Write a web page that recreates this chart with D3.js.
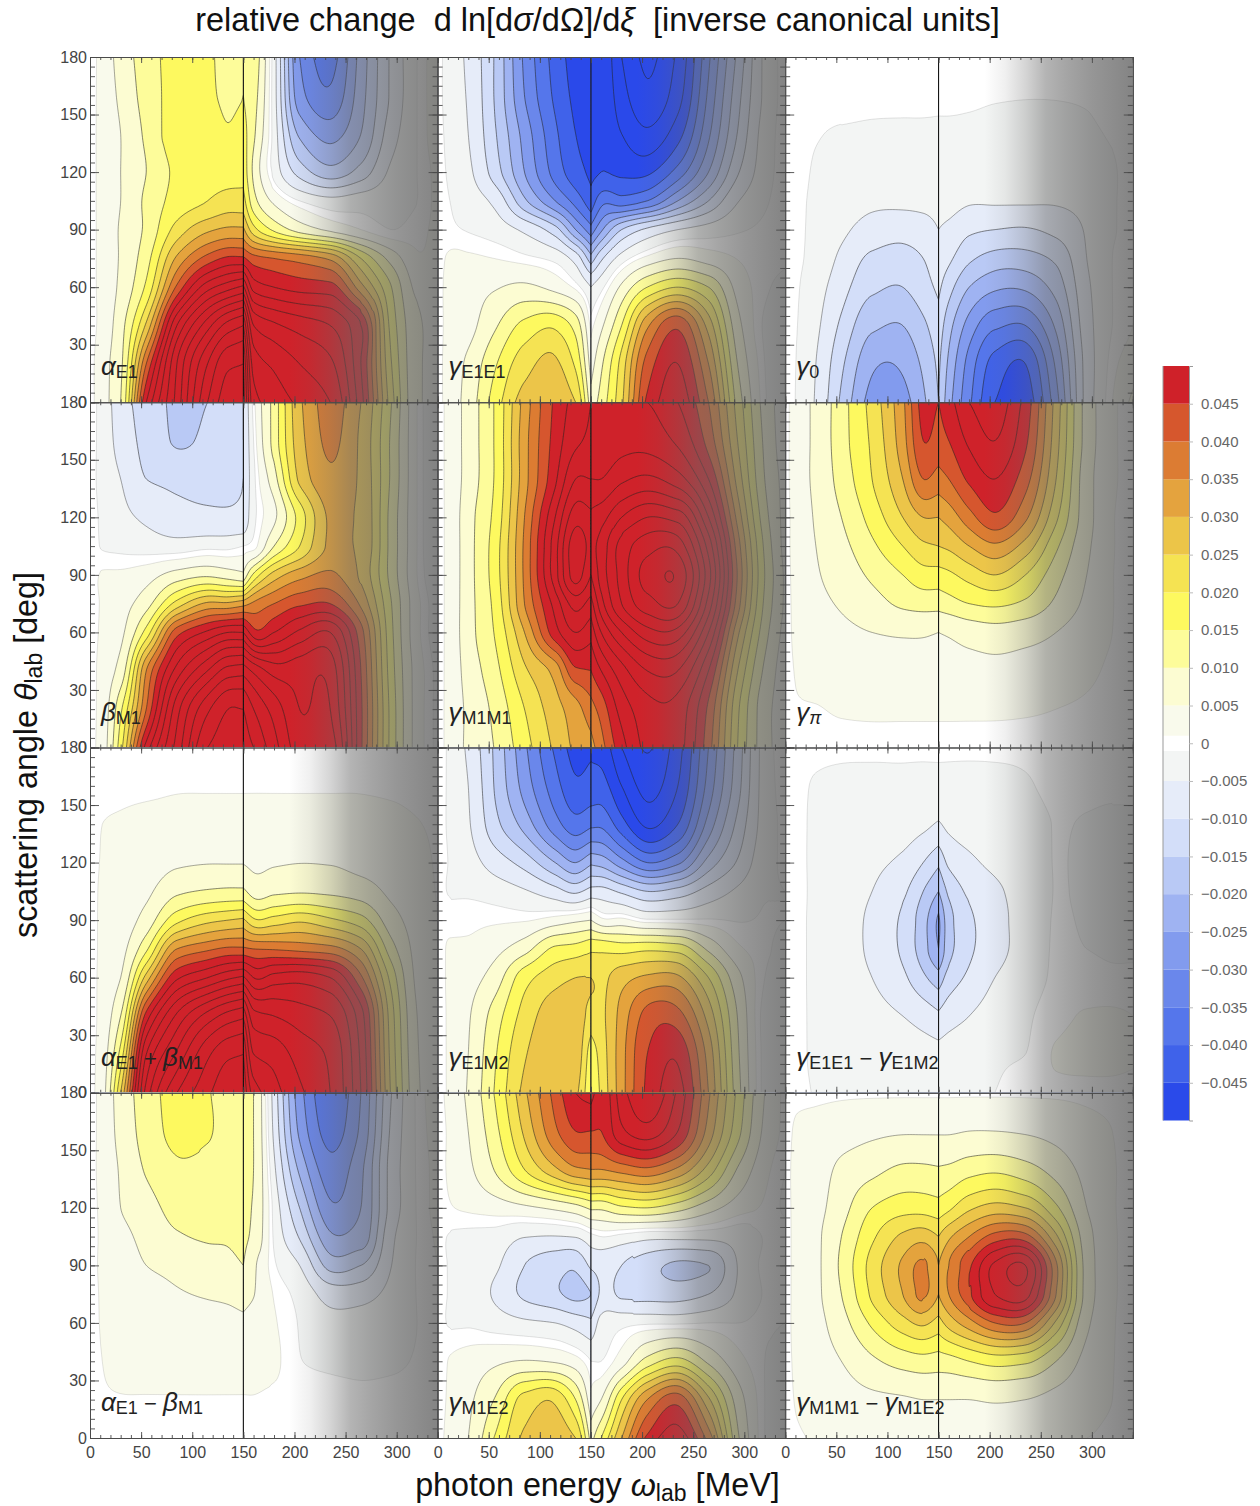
<!DOCTYPE html>
<html><head><meta charset="utf-8">
<script src="https://cdn.jsdelivr.net/npm/d3@7"></script>
<style>
html,body{margin:0;padding:0;background:#fff}
svg{display:block}
text{font-family:"Liberation Sans",Arial,sans-serif}
</style></head><body>
<svg id="c" width="1260" height="1506"></svg>
<script>
// read-off tables: rows are scattering angles, columns photon energies; values in 0.001 inverse canonical units
const angleRows=[180,160,140,120,105,90,75,60,40,20,0];
const energyCols=[0,12,30,55,85,115,135,150,160,180,205,235,265,295,320,340];
const alphaE1=[
[0,2,7,12.5,17,16,13,15,13,-3,-30,-37,-23,-9,-1,3],
[0,2,6,12,17,16,14,15,12,-3,-28,-34,-22,-9,-1,3],
[0,2,5,11,18,18,15.5,17,11,-2.5,-21,-27,-20,-7,-1,3],
[0,2,5,10,16,18,18,18.5,9,-2,-12,-18,-13,-4,-1,2],
[0,2,5,11,17,20,22,22,12,4,-1,-3.5,-2.5,-2,-1,2],
[0,2,5.5,11,22,29,31,31,22,14,8,4,1,-1,0,2],
[0,2,5.5,13,31,42,46,46,42,40,38,34,20,8,1.5,2],
[0,2,6,16,41,58,63,66,53,50,48,47,32,15,4,3],
[0,2,8,26,60,78,87,90,70,66,63,60,50,18,6,3],
[0,3,9,40,70,90,99,100,78,74,70,66,50,20,6,3],
[0,3,10,50,72,95,103,103,82,78,74,70,52,22,6,3]];
const gammaE1E1=[
[0,-2.5,-6,-15,-31,-42,-47,-47,-46,-55,-61,-54,-36,-18,-4,0.5],
[0,-2.5,-5.5,-15,-30,-41,-46,-47,-46,-53,-59,-52,-34,-16,-4,0.5],
[0,-2,-5,-14,-27,-39,-45,-47,-46,-50,-54,-47,-31,-14,-3,0.5],
[0,-1.5,-4,-12,-25,-37,-43,-46,-45,-46,-46,-38,-25,-10,-2.5,0.5],
[0,-1,-2.5,-6,-19,-30,-37,-43,-37,-38,-35,-25,-15,-5,-1.5,0.5],
[0,-0.6,-1.2,-2.5,-6,-13,-25,-33,-26,-15,-9,-5,-3,-1.3,-0.5,0.5],
[0,1.5,1.5,1,-0.2,-2,-7,-18,-11,-3,2,5,3,0.8,-0.3,-0.5],
[0,2,3,4.5,6,3.5,0.3,-5,-2,6,15,20,15,3,-0.5,-2],
[0,2,3.5,9,16.5,19,13,0,4,15,34,44,28,6,-1.5,-4],
[0,2.5,6,14,23,26,19,3,9,22,42,50,35,9,-1,-5],
[0,2.5,7,17,27,29,25,7,12,24,46,53,40,12,-0.5,-5]];
const gamma0=[
[0,0,0,0,0,0,0,0,0,0,0,0,0,0,0,0],
[0,0,0,0,-0.3,-0.4,-0.4,-0.5,-0.5,-0.6,-0.8,-0.9,-0.9,-0.8,-0.3,0],
[0,-0.2,-0.8,-1.3,-1.5,-1.5,-1.5,-1.5,-1.5,-1.6,-1.8,-1.8,-1.6,-1.3,-0.8,-0.3],
[0,-0.3,-1.3,-2,-2.5,-2.5,-2.5,-2.5,-2.5,-2.7,-3,-3,-2.7,-2,-1.2,-0.3],
[0,-0.5,-1.5,-2.5,-4,-4,-3.8,-3.5,-3.5,-4.5,-4.5,-4.5,-4.5,-3.5,-1.2,-0.5],
[0,-0.5,-1.8,-4,-7,-8,-7,-5,-6,-9,-10,-10.5,-8.5,-4.5,-1.2,-0.5],
[0,-0.6,-2,-6,-11,-12,-10,-7,-9,-14,-17,-17,-14,-5,-1,0],
[0,-0.8,-3,-8,-14,-15,-12,-9,-13,-20,-24,-24,-18,-6,-1,0.5],
[0,-1,-4,-11,-19,-20,-16,-12,-18,-27,-34,-35,-24,-7,-1,1],
[0,-1.2,-5,-14,-24,-24,-19,-14,-21,-32,-42,-45,-29,-8,0,3],
[0,-1.3,-5.5,-16,-27,-27,-21,-15,-23,-34,-45,-48,-32,-8,1,6]];
const betaM1=[
[0,-2,-8,-12,-16,-15,-12,-10,0,12,29,37,30,15,1,-5],
[0,-2,-7,-11.5,-15.5,-14,-12,-10,-1,12,28,36,29,14,1,-5],
[0,-2,-5,-10,-11,-11.5,-11.5,-10,-2,8,26,34,29,14,1,-5],
[0,-1.5,-3.5,-6,-8.5,-9,-9,-9,-2,4,17,31,29,13,1,-5],
[0,-1.2,-1.8,-2.5,-3,-2,-2,-1,0,10,20,31,29,13,1,-5],
[0,1.2,1.5,3,7,9,7.5,6,16,27,33,36,29,13,1,-4],
[0,1.3,3,8,22,31,31,33,36,40,44,45,34,15,2,-3],
[0,1.5,4,17,43,51,55,55,47,50,56,60,42,16,2,-3],
[0,2,7,35,57,70,77,78,74,68,68,68,45,17,3,-2],
[0,2.2,14,40,68,84,90,90,85,78,70,70,46,18,3,-2],
[0,2.5,18,52,72,90,93,93,90,82,73,72,46,18,3,-2]];
const gammaM1M1=[
[0,2,7,15,32,46,52,55,55,56,55,50,40,22,8,2],
[0,2,7,15,33,47,54,56,56,58,58,54,43,24,9,2],
[0,2,7,15,33,49,60,60,60,64,66,62,50,27,10,3],
[0,2,8,16,35,55,68,66,68,75,80,78,60,32,12,3],
[0,2,8,17,36,58,73,68,72,82,88,88,68,36,14,3],
[0,2,8,17,36,58,72,65,72,82,92,94,72,38,15,4],
[0,2,8,16,35,52,62,58,68,80,88,90,68,36,14,4],
[0,2,8,15,30,48,55,52,60,70,78,78,60,30,12,3],
[0,2,7,13,24,32,44,45,50,58,65,65,50,24,9,2],
[0,2,6,11,20,28,33,38,42,52,58,58,44,20,7,2],
[0,2,6,10,18,26,31,33,38,48,56,57,42,19,7,2]];
const gammaPi=[
[0,3,6,13,22,34,47,45,48,55,58,48,28,8,1.5,0],
[0,3,6,13,21,33,45,43,45,51,55,46,27,8,1.5,0],
[0,3,6,12,20,30,40,38,40,46,50,42,25,7,1.5,0],
[0,2.5,5.5,10,17,25,30,30,32,38,44,36,21,7,1.2,0],
[0,2.5,5,8.5,14,20,24,25,26,30,34,28,16,6,1.2,0],
[0,2.2,4.5,7,11,15,18,18,19,22,25,20,12,5,1.1,0],
[0,2,3.8,5.5,8,11,12,12,13,15,16,14,9,4,1.1,0],
[0,1.8,3,4,5,5.5,5.5,5,5.5,7,8,7,5,2.5,1,0],
[0,1.3,2,2.5,2.8,3,3,3,3,3.2,3.5,3,2.5,1.5,0.6,0],
[0,0.8,0.9,1.2,1.3,1.3,1.3,1.3,1.3,1.3,1.3,1.2,1,0.7,0.3,0],
[0,0.3,0.5,0.5,0.5,0.5,0.5,0.5,0.5,0.5,0.5,0.5,0.5,0.3,0.2,0]];
const alphaPlusBeta=[
[0,0.2,0.4,0.5,0.5,0.5,0.5,0.5,0.5,0.5,0.5,0.5,0.5,0.4,0.3,0.2],
[0,0.5,0.7,0.8,0.9,0.9,0.9,0.9,0.9,0.9,0.9,0.9,0.9,0.8,0.6,0.3],
[0,1,1.2,1.4,1.5,1.6,1.6,1.6,1.6,1.6,1.6,1.6,1.5,1.4,1.1,0.6],
[0,1.2,1.8,2.5,4.3,4.8,4.8,4.8,4,4.5,4.9,4.7,3.5,2.5,1.8,0.7],
[0,1.4,2,4,9,10.5,11,11,8,9,9.5,9,7.5,4,2.5,0.8],
[0,1.5,2.5,7,18.5,23.5,25,26,21,22,24,21,17,7,3,1],
[0,1.6,3.5,14,35,39,41,41,40,39.5,38.5,37,30,12,3.5,1],
[0,1.8,5,27,49,55,59,61,55,57,58,55,41,18,4,1],
[0,2,10,47,66,77,82,84,72,70,67.5,65,52,22,5,1],
[0,2.5,17,60,76,89,94,95,80,78,73,69,54,23,5.5,1],
[0,3,25,67,85,94,99,99,88,82,76,70,55,24,6,1]];
const gammaE1M2=[
[0,-1.5,-6,-15.5,-29,-41,-47,-46,-47,-55,-60.5,-52,-35,-17,-3,1],
[0,-1.5,-5,-15,-27,-38,-44,-43,-43,-50,-57,-50,-33,-16,-3,0.5],
[0,-1.5,-4.5,-13,-22,-33,-38,-36,-36,-43,-51,-45,-28,-13,-3,0],
[0,-1.2,-3,-7,-12,-20,-25,-21,-22,-28,-35,-31,-18,-9,-2,-0.5],
[0,-1.2,-1.5,-2.5,-4.5,-8,-11,-8,-8,-11,-15,-13,-8,-4,-1.2,-1],
[0,0.2,0.4,0.5,0.7,2.5,4,5,2,2,-0.5,-0.6,-0.7,-1.2,-0.8,-1],
[0,1.3,1.5,3.5,8,16,17,19,19,18,19,18,9,1.5,-0.5,-2],
[0,1.5,3,7,18,23,25,25,24,28,31,31,20,6,-1,-3],
[0,1.5,4.5,12,22,28,28,23,24,32,42,42,28,9,-2,-4],
[0,1.5,5,14,24.5,29,28,17,22,33,45,49,33,10,-2,-5],
[0,1.5,5.5,15,26,29,26,15,21,33,46,52,35,11,-2,-5]];
const gammaE1Diff=[
[0,-0.2,-0.5,-0.6,-0.7,-0.7,-0.7,-0.7,-0.7,-0.7,-0.7,-0.7,-0.5,-0.5,-0.5,-0.5],
[0,-0.5,-1.2,-1.5,-1.5,-1.5,-1.6,-1.6,-1.6,-1.6,-1.5,-1.2,-0.5,-0.5,-0.5,-0.5],
[0,-0.4,-1.5,-2,-2.5,-3,-4,-5.5,-4,-3,-2.5,-2,-0.9,-1.2,-1.5,-1.5],
[0,-0.4,-1.6,-2.5,-4,-6,-10,-14,-9,-6,-4,-2.5,-0.9,-1.5,-1.5,-1.5],
[0,-0.4,-1.6,-3,-5,-9,-15,-20,-14,-9,-6,-3,-0.9,-1.5,-1.5,-1.5],
[0,-0.4,-1.7,-3,-6,-11,-18,-26,-17,-11,-7,-3,-0.8,-1.3,-1.5,-1.5],
[0,-0.4,-1.7,-3,-6,-11,-18,-25,-17,-11,-7,-3,-0.7,-1,-1.2,-1.2],
[0,-0.4,-1.7,-3,-5,-9,-14,-18,-13,-9,-5,-2.5,-0.7,-0.5,-0.7,-0.7],
[0,-0.4,-1.6,-2.5,-3.5,-5,-7,-9,-7,-5,-3,-1.5,0.3,1.2,1.3,1],
[0,-0.4,-1.5,-2,-2.2,-2.5,-3,-3.5,-3,-2.5,-1.5,-1,1.2,1.5,1.5,1.2],
[0,-0.3,-1.2,-1.8,-1.8,-1.8,-1.8,-1.8,-1.8,-1.5,-1,0.2,0.5,0.5,0.5,0.5]];
const alphaMinusBeta=[
[0,2,7,12.5,17,15.3,13,12,10,-7,-28,-39,-30,-10,-0.5,3],
[0,2,6.5,12,16.5,15.5,13,12,10,-6,-26,-37,-29,-9,-0.6,2.5],
[0,2,5.5,10.5,14,13.5,13,12,10,-4,-21,-33,-26,-8,-0.7,2],
[0,1.7,5,8,11.5,12,12,11.5,9.5,-2,-15,-29,-25,-8,-0.8,2],
[0,1.5,3.5,6.5,9.5,10.5,10.5,11,9,-1.5,-10.5,-24,-23,-6,-0.9,1.5],
[0,1.5,2.5,5,6.5,8,9,10,6,-0.5,-5,-17,-15,-5,-0.8,1],
[0,1.3,2,3,4.5,5.5,6,7,5.2,0.8,-2,-7,-7,-3.5,-0.9,0.7],
[0,1.2,1.7,2.2,2.5,3,3.5,4,3,1.3,-1.2,-3.5,-3,-2,-1,0.5],
[0,1,1.5,1.7,1.8,1.9,1.9,1.9,1.9,1.5,-0.9,-1.5,-1.5,-1.3,-0.8,0.3],
[0,0.8,0.9,0.9,0.9,0.9,0.9,0.9,0.9,0.6,0,-0.3,-0.6,-0.5,-0.3,0],
[0,0.3,0.3,0.3,0.3,0.3,0.3,0.3,0.3,0.3,0,0,0,0,0,0]];
const gammaM1E2=[
[0,2,6,15,29,42,50,52,47,58,65,54,36,18,5,0],
[0,1.5,5,13,26,39,45,45,45,54,58,50,33,16,4,0],
[0,1.5,4,10,20,29,34,35,35,37,39,34,23,9,2,-1],
[0,0.8,1.5,2.5,4,6,8,11,11,14,15,12,7,2.5,0.5,-1.5],
[0,-1.2,-1.6,-2.2,-4.8,-5.2,-4.7,-2,-1,-2,-3.5,-3.5,-3.5,-3,-0.8,0],
[0,-1.2,-2,-4,-10,-13,-14,-9,-8,-10,-13,-16,-15,-4.5,-0.5,0],
[0,-1.2,-2,-5.5,-11,-14,-16.5,-15,-9,-11,-11.5,-12,-10,-4,-0.8,0],
[0,-1.2,-1.3,-2.5,-4,-5,-7,-9,-3.5,-2,-1.5,-1.5,-1,-1,-0.5,-1],
[0,1.2,2.5,4,5.3,4.5,2.5,-1,-1,3,12,17,9,2,-1,-4],
[0,1.5,4,10,22,24,15,2,5,20,35,43,26,7,-1,-5],
[0,2,5,15,26,29,25,8,15,30,46,53,38,10,-1,-5]];
const gammaM1Diff=[
[0,0.3,0.4,0.5,0.5,0.5,0.5,0.5,0.5,0.5,0.5,0.5,0.5,0.4,0.3,0.1],
[0,1.5,2,3,4,4.5,4.5,4.5,4.5,5,5,4.5,3.5,2,1,0.3],
[0,2,3,6,8.5,11,11,10.5,11,13,14,12,8,3.5,1.2,0.4],
[0,2,3.5,8,15,18,18,17,19,24,27,25,16,5,1.2,0.4],
[0,2,4,10,19,26,28,25,29,35,42,42,26,7,1.3,0.4],
[0,2,4,11,22,31,36,30,35,44,56,60,36,8,1.3,0.4],
[0,2,4,10,21,30,36,30,35,44,55,57,35,8,1.3,0.4],
[0,2,3.5,8,16,23,26,23,27,33,40,40,24,6,1.2,0.3],
[0,1.7,2.8,5,9,12,13,12.5,13,15,17,16,10,3.5,1.1,0.3],
[0,1.3,2,3,4,4.5,5,5,5,5,5.5,5,3.5,2,1,0.2],
[0,0.7,1.2,1.5,1.6,1.6,1.6,1.6,1.6,1.6,1.6,1.5,1.2,1,0.5,0.1]];

const panelTables=[alphaE1,gammaE1E1,gamma0,betaM1,gammaM1M1,gammaPi,alphaPlusBeta,gammaE1M2,gammaE1Diff,alphaMinusBeta,gammaM1E2,gammaM1Diff];
const panelNames=[
[["α","E1"]],[["γ","E1E1"]],[["γ","0"]],
[["β","M1"]],[["γ","M1M1"]],[["γ","π",true]],
[["α","E1"],["β","M1"]],[["γ","E1M2"]],[["γ","E1E1"],["γ","E1M2"]],
[["α","E1"],["β","M1"]],[["γ","M1E2"]],[["γ","M1M1"],["γ","M1E2"]]];
const panelOps=["","","","","","","+","","−","−","","−"];
const fillLevels=[-45,-40,-35,-30,-25,-20,-15,-10,-5,-1,1,5,10,15,20,25,30,35,40,45];
const fillColors=["#2a4aea","#3f62ea","#5576eb","#6a87eb","#829bee","#9fb3f2","#b9c9f5","#d3def9","#e6ecf9","#f3f5f4","#ffffff","#f9faec","#fcfcd2","#fdfc9a","#fdf95f","#f5e352","#ecc548","#e4a33e","#dc7c33","#d6572d","#cf2129"];
const lineLevels=[-70,-65,-60,-55,-50,-45,-40,-35,-30,-25,-20,-15,-10,-5,-1,1,5,10,15,20,25,30,35,40,45,50,55,60,65,70,75,80,85,90,95,100,105,110];
const barTicks=[0.045,0.04,0.035,0.03,0.025,0.02,0.015,0.01,0.005,0,-0.005,-0.01,-0.015,-0.02,-0.025,-0.03,-0.035,-0.04,-0.045];
const energyTicks=[0,50,100,150,200,250,300];
const angleTicks=[0,30,60,90,120,150,180];
const energyMinor=d3.range(0,341,10);
const angleMinor=d3.range(0,181,5);
const thresholdEnergy=150;

const colX=[90,437.6,785.2], panelW=347.6, rowY=[57,402.25,747.5,1092.75], panelH=345.25;
const svg=d3.select("#c");
const defs=svg.append("defs");
const fade=defs.append("linearGradient").attr("id","fade").attr("x1",0).attr("x2",1).attr("y1",0).attr("y2",0);
[[195,0],[215,.1],[235,.28],[255,.5],[275,.6],[300,.7],[340,.82]].forEach(([e,a])=>fade.append("stop").attr("offset",e/340).attr("stop-color","rgb(105,105,105)").attr("stop-opacity",a));
const soft=defs.append("filter").attr("id","soft").attr("x","-2%").attr("y","-2%").attr("width","104%").attr("height","104%");
soft.append("feGaussianBlur").attr("stdDeviation",.45);

function hermite(xs,ys,t){
  const n=xs.length,h=[],d=[],m=new Array(n);
  for(let i=0;i<n-1;i++){h[i]=xs[i+1]-xs[i];d[i]=(ys[i+1]-ys[i])/h[i];}
  m[0]=d[0];m[n-1]=d[n-2];
  for(let i=1;i<n-1;i++){
    if(d[i-1]*d[i]>0){
      const a=2*h[i]+h[i-1],b=h[i]+2*h[i-1];
      m[i]=(a+b)/(a/d[i-1]+b/d[i]);
    }else{
      m[i]=(h[i-1]*d[i]+h[i]*d[i-1])/(h[i-1]+h[i]);
    }
  }
  return t.map(v=>{
    let i=Math.min(d3.bisectRight(xs,v)-1,n-2);if(i<0)i=0;
    const q=h[i],s=(v-xs[i])/q,s2=s*s,s3=s2*s;
    return (2*s3-3*s2+1)*ys[i]+(s3-2*s2+s)*q*m[i]+(-2*s3+3*s2)*ys[i+1]+(s3-s2)*q*m[i+1];
  });
}
const dE=1.5,dA=1.5;
const asc=angleRows.slice().reverse();
const fineA=d3.range(0,180+dA/2,dA).reverse();
function field(table,from,to){
  const cols=energyCols.slice(from,to+1);
  const fineE=d3.range(cols[0],cols[cols.length-1]+dE/2,dE);
  const rows=table.slice().reverse().map(r=>hermite(cols,r.slice(from,to+1),fineE));
  const vals=new Array(fineE.length*fineA.length);
  fineE.forEach((e,i)=>{
    const col=hermite(asc,rows.map(r=>r[i]),fineA);
    col.forEach((v,j)=>{vals[j*fineE.length+i]=v;});
  });
  return {vals,n:fineE.length,m:fineA.length,e0:cols[0]};
}
const split=energyCols.indexOf(thresholdEnergy);

panelTables.forEach((table,k)=>{
  const c=k%3,r=Math.floor(k/3);
  const x=d3.scaleLinear().domain([0,340]).range([colX[c],colX[c]+panelW]);
  const y=d3.scaleLinear().domain([0,180]).range([rowY[r]+panelH,rowY[r]]);
  const g=svg.append("g");
  const plot=g.append("g").attr("filter","url(#soft)");
  [[0,split,0,thresholdEnergy],[split,energyCols.length-1,thresholdEnergy,340]].forEach(([a,b,e0,e1],side)=>{
    const id=`clip${k}_${side}`;
    defs.append("clipPath").attr("id",id).append("rect")
      .attr("x",x(e0)).attr("y",y(180)).attr("width",x(e1)-x(e0)).attr("height",y(0)-y(180));
    const f=field(table,a,b);
    const tr=d3.geoTransform({point(px,py){
      this.stream.point(x(f.e0+(px-.5)*dE),y(180-(py-.5)*dA));
    }});
    const path=d3.geoPath(tr);
    const sg=plot.append("g").attr("clip-path",`url(#${id})`);
    sg.append("rect").attr("x",x(e0)).attr("y",y(180)).attr("width",x(e1)-x(e0)).attr("height",y(0)-y(180)).attr("fill",fillColors[0]);
    const gen=d3.contours().size([f.n,f.m]);
    fillLevels.forEach((t,i)=>{
      sg.append("path").attr("d",path(gen.contour(f.vals,t))).attr("fill",fillColors[i+1]);
    });
    lineLevels.forEach(t=>{
      const a=Math.abs(t);
      sg.append("path").attr("d",path(gen.contour(f.vals,t))).attr("fill","none")
        .attr("stroke","#222").attr("stroke-width",1)
        .attr("stroke-opacity",a===1?.12:a===5?.4:.55);
    });
  });
  g.append("rect").attr("x",x(0)).attr("y",y(180)).attr("width",panelW).attr("height",panelH).attr("fill","url(#fade)");
  g.append("line").attr("x1",x(thresholdEnergy)).attr("x2",x(thresholdEnergy)).attr("y1",y(0)).attr("y2",y(180))
    .attr("stroke","#151515").attr("stroke-width",1.1);

  // panel name
  const lab=svg.append("text").attr("x",x(0)+11).attr("y",y(0)-27).attr("fill","#222");
  panelNames[k].forEach((p,i)=>{
    if(i>0)lab.append("tspan").attr("font-size",22).text(" "+panelOps[k]+" ");
    lab.append("tspan").attr("font-size",26).attr("font-style","italic").text(p[0]);
    lab.append("tspan").attr("font-size",18).attr("font-style",p[2]?"italic":null).attr("dy",3).text(p[1]);
    lab.append("tspan").attr("font-size",1).attr("dy",-3).text("\u200a");
  });

  // frame and ticks
  const styleAxis=s=>{s.selectAll("path").attr("stroke","#4a4a4a").attr("stroke-width",1);
    s.selectAll("line").attr("stroke","#4a4a4a").attr("stroke-width",.9);
    s.selectAll("text").attr("font-family",'"Liberation Sans",Arial,sans-serif').attr("font-size",16).attr("fill","#444");};
  const add=(gen,tx,ty)=>svg.append("g").attr("transform",`translate(${tx},${ty})`).call(gen).call(styleAxis);
  add(d3.axisBottom(x).tickValues(energyMinor).tickSize(-3).tickFormat(""),0,y(0));
  add(d3.axisTop(x).tickValues(energyMinor).tickSize(-3).tickFormat(""),0,y(180));
  add(d3.axisBottom(x).tickValues(energyTicks).tickSize(-6).tickFormat(r===3?d3.format("d"):"").tickPadding(9),0,y(0));
  add(d3.axisTop(x).tickValues(energyTicks).tickSize(-6).tickFormat(""),0,y(180));
  add(d3.axisLeft(y).tickValues(angleMinor).tickSize(-5).tickFormat(""),x(0),0);
  add(d3.axisRight(y).tickValues(angleMinor).tickSize(-5).tickFormat(""),x(340),0);
  add(d3.axisLeft(y).tickValues(angleTicks).tickSize(-9).tickFormat(c===0?d3.format("d"):"").tickPadding(3),x(0),0);
  add(d3.axisRight(y).tickValues(angleTicks).tickSize(-9).tickFormat(""),x(340),0);
});

// colour bar
const barY=d3.scaleLinear().domain([-0.05,0.05]).range([1120.5,366]);
const edges=[-50,...fillLevels,50];
fillColors.forEach((col,i)=>{
  svg.append("rect").attr("x",1163).attr("width",26)
    .attr("y",barY(edges[i+1]/1000)).attr("height",barY(edges[i]/1000)-barY(edges[i+1]/1000)).attr("fill",col);
});
const barAxis=d3.axisRight(barY).tickValues(barTicks).tickSize(4).tickPadding(8)
  .tickFormat(v=>v===0?"0":(v<0?"−":"")+d3.format(".3f")(Math.abs(v)));
const bg=svg.append("g").attr("transform","translate(1189,0)").call(barAxis);
bg.select("path").attr("stroke","#999").attr("stroke-width",1);
bg.selectAll("line").attr("stroke","#bbb");
bg.selectAll("text").attr("font-size",15).attr("fill","#666").attr("font-family",'"Liberation Sans",Arial,sans-serif');
svg.append("line").attr("x1",1163).attr("x2",1163).attr("y1",366).attr("y2",1120.5).attr("stroke","#999");

// titles
const t=svg.append("text").attr("x",597.5).attr("y",31).attr("text-anchor","middle").attr("font-size",32.5).attr("fill","#111").attr("xml:space","preserve").style("white-space","pre");
t.append("tspan").text("relative change  d ln[d");
t.append("tspan").attr("font-style","italic").text("σ");
t.append("tspan").text("/dΩ]/d");
t.append("tspan").attr("font-style","italic").text("ξ");
t.append("tspan").text("  [inverse canonical units]");
const xl=svg.append("text").attr("x",597.5).attr("y",1496).attr("text-anchor","middle").attr("font-size",32.3).attr("fill","#111");
xl.append("tspan").text("photon energy ");
xl.append("tspan").attr("font-style","italic").text("ω");
xl.append("tspan").attr("font-size",23).attr("dy",5).text("lab");
xl.append("tspan").attr("dy",-5).text(" [MeV]");
const yl=svg.append("text").attr("transform","translate(37,755) rotate(-90)").attr("text-anchor","middle").attr("font-size",32.3).attr("fill","#111");
yl.append("tspan").text("scattering angle ");
yl.append("tspan").attr("font-style","italic").text("θ");
yl.append("tspan").attr("font-size",23).attr("dy",5).text("lab");
yl.append("tspan").attr("dy",-5).text(" [deg]");
</script>
</body></html>
